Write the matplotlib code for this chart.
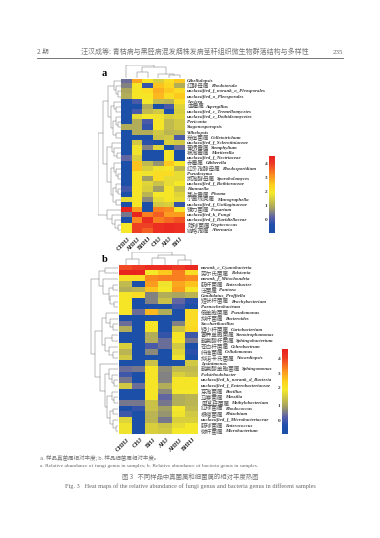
import numpy as np
import matplotlib
matplotlib.use('Agg')
import matplotlib.pyplot as plt
from matplotlib.colors import LinearSegmentedColormap

# page size in pixels
W, H = 380, 538
SERIF = ['Liberation Serif', 'Noto Sans CJK SC']
CJK = ['Noto Sans CJK SC', 'Liberation Serif']

# panel a
samples_a = ['CHHJ', 'AHHJ', 'BHHJ', 'CHJ', 'AHJ', 'BHJ']
genera_a = ['Gibellulopsis', '红酵母属 Rhodotorula', 'unclassified_f_norank_o_Pleosporales',
            'unclassified_o_Pleosporales', 'Lecicea', '曲霉属 Aspergillus',
            'unclassified_c_Tremellomycetes', 'unclassified_c_Dothideomycetes', 'Periconia',
            'Stagonosporopsis', 'Vilhelopsis', '炭疽菌属 Colletotrichum',
            'unclassified_f_Sclerotiniaceae', '葡柄霉属 Stemphylium', '被孢霉属 Mortierella',
            'unclassified_f_Nectriaceae', '赤霉属 Gibberella', '红冬孢酵母属 Rhodosporidium',
            'Pseudozyma', '掷孢酵母属 Sporobolomyces', 'unclassified_f_Bothioraceae',
            'Hannaella', '茎点霉属 Phoma', '小画线壳属 Monographella',
            'unclassified_f_Ustilaginaceae', '镰刀菌属 Fusarium', 'unclassified_k_Fungi',
            'unclassified_f_Davidiellaceae', '隐球菌属 Cryptococcus', '链格孢属 Alternaria']
values_a = [
    [0.3, 2.9, 2.0, 1.5, 2.1, 2.5],
    [0.5, 2.0, -0.2, 2.6, 2.3, 1.0],
    [0.9, 2.0, 2.2, 2.8, 2.5, 2.2],
    [1.0, 2.0, 2.0, 2.7, 2.2, 2.5],
    [-0.9, 0.0, 1.9, 1.2, 1.1, 2.1],
    [-0.9, -0.9, 1.0, -0.9, 0.0, 1.6],
    [-0.9, 0.0, 1.2, 1.4, -0.5, 1.5],
    [-0.9, 1.7, 1.9, 1.8, 1.5, 1.6],
    [-0.9, 1.0, 0.0, 2.0, 1.2, 1.4],
    [1.0, 1.0, -0.2, 2.0, 1.2, 1.4],
    [-0.9, 1.0, 1.0, 1.4, 1.1, 1.2],
    [-0.9, -0.9, -0.9, 1.3, 1.4, 0.0],
    [-0.9, 1.4, -0.3, -0.8, 1.5, 1.4],
    [-0.9, 1.8, 0.5, 1.6, -0.9, 0.3],
    [-0.9, 1.8, -0.9, -0.9, 2.0, -0.9],
    [0.2, 1.5, -0.9, -0.9, 2.0, -0.9],
    [-0.9, 2.6, 1.2, 0.7, 2.5, 1.9],
    [-0.9, 2.6, 1.5, 1.8, 2.0, 1.1],
    [-0.9, 2.0, 1.8, 2.2, 2.2, 1.7],
    [-0.9, 2.0, 0.8, 2.2, 1.7, 1.7],
    [-0.9, 2.0, 1.6, 1.3, 1.7, 1.9],
    [-0.1, 2.0, 1.5, 0.8, 2.0, 1.3],
    [-0.9, 2.0, 1.1, 1.9, 2.0, 1.6],
    [1.7, 2.0, 0.6, 1.7, 2.0, 1.7],
    [-0.9, 2.0, -0.9, 1.4, 1.5, -0.2],
    [4.4, 3.0, -0.9, 3.3, 3.2, 2.0],
    [0.4, 4.4, 3.3, 3.6, 3.0, 3.0],
    [-0.9, 3.2, 4.2, 3.3, 3.5, 3.7],
    [1.9, 3.9, 3.9, 4.2, 4.3, 4.2],
    [1.9, 3.9, 3.6, 4.2, 4.3, 4.2],
]

# panel b
samples_b = ['CHHJ', 'CHJ', 'BHJ', 'AHJ', 'AHHJ', 'BHHJ']
genera_b = ['norank_c_Cyanobacteria', '劳尔氏菌属 Ralstonia', 'norank_f_Mitochondria',
            '肠杆菌属 Enterobacter', '泛菌属 Pantoea', 'Candidatus_Profftella',
            '短状杆菌属 Brachybacterium', 'Paenochrobactrum', '假单胞菌属 Pseudomonas',
            '拟杆菌属 Bacteroides', 'Saccharibacillus', '短小杆菌属 Curtobacterium',
            '寡养单胞菌属 Stenotrophomonas', '鞘氨醇杆菌属 Sphingobacterium',
            '苍白杆菌属 Ochrobactrum', '纤维菌属 Cellulomonas', '拟诺卡氏菌属 Nocardiopsis',
            'Lysinimonas', '鞘氨醇单胞菌属 Sphingomonas', 'Falsirhodobacter',
            'unclassified_k_norank_d_Bacteria', 'unclassified_f_Enterobacteriaceae',
            '芽孢菌属 Bacillus', '马赛菌属 Massilia', '甲基杆菌属 Methylobacterium',
            '红球菌属 Rhodococcus', '根瘤菌属 Rhizobium', 'unclassified_f_Microbacteriaceae',
            '肠球菌属 Enterococcus', '微杆菌属 Microbacterium']
values_b = [
    [3.8, 4.0, 4.2, 4.2, 4.0, 4.3],
    [4.4, 4.4, 1.9, 2.5, 3.3, 2.2],
    [2.1, 2.2, 3.2, 3.3, 3.3, 3.2],
    [1.2, -0.9, 3.0, 1.8, 2.9, 2.6],
    [1.0, 1.1, 2.6, 1.9, 3.0, 2.0],
    [2.0, 2.2, 0.5, 1.0, 0.9, 1.1],
    [2.0, -0.9, 0.5, 1.3, 0.2, -0.3],
    [2.0, -0.9, -0.9, -0.9, -0.1, -0.9],
    [2.0, 0.3, 2.7, 1.0, -0.9, 2.2],
    [-0.9, -0.9, -0.9, -0.9, -0.9, 2.2],
    [0.3, -0.9, 2.0, -0.9, 0.5, 2.2],
    [1.0, -0.9, 2.0, -0.9, 1.3, 2.3],
    [-0.9, -0.9, 1.0, -0.2, 2.0, -0.1],
    [-0.9, -0.9, 1.0, 0.3, 2.0, 0.4],
    [1.5, -0.9, 0.0, 0.3, 1.4, -0.8],
    [1.1, -0.9, 0.6, -0.9, 1.6, -0.3],
    [1.4, -0.9, -0.9, -0.9, 1.8, -0.8],
    [-0.9, -0.9, 1.3, -0.9, -0.8, 1.4],
    [0.3, 0.4, 2.0, 0.6, 1.2, 1.2],
    [-0.1, -0.9, 2.0, 0.5, 1.5, 1.3],
    [0.4, -0.9, 2.0, 0.5, 2.0, 2.0],
    [1.4, 0.3, 2.0, 1.0, 2.0, 2.0],
    [-0.9, -0.9, 2.0, 0.6, 1.9, 1.9],
    [-0.9, -0.9, 2.0, 0.2, 1.0, 1.1],
    [0.4, 0.4, 1.3, 0.4, 1.0, 1.1],
    [-0.9, -0.2, 1.3, 0.8, 1.9, 1.2],
    [-0.1, -0.9, 1.1, 0.7, 1.8, 1.4],
    [1.6, -0.9, 1.1, 0.4, 1.5, 1.5],
    [1.8, -0.9, 1.5, 1.3, 1.7, 1.9],
    [1.8, -0.9, 1.5, 1.4, 1.9, 1.9],
]

# clustering trees, written as (height, left, right) with leaf = row or column index
rows_tree_a = (1.0,
    (0.8,
        (0.55, (0.3, 0, (0.2, 1, (0.1, 2, 3))),
               (0.45, (0.3, 4, (0.2, 5, 6)), (0.35, (0.2, 7, (0.1, 8, 9)), (0.2, 10, 11)))),
        (0.6, (0.4, 12, (0.3, 13, (0.15, 14, 15))),
              (0.45, (0.3, 16, (0.2, 17, (0.1, 18, 19))),
                     (0.35, (0.2, 20, (0.1, 21, 22)), (0.2, 23, 24))))),
    (0.6, 25, (0.4, 26, (0.25, 27, (0.1, 28, 29)))))
cols_tree_a = (1.0, 0, (0.85, (0.5, 1, 2), (0.35, 3, (0.2, 4, 5))))
rows_tree_b = (1.0,
    (0.7, (0.5, 0, 1), (0.55, 2, (0.35, (0.2, 3, 4), (0.3, 5, (0.15, 6, 7))))),
    (0.85,
        (0.6, (0.45, 8, (0.3, 9, (0.2, 10, 11))),
              (0.5, (0.25, 12, 13), (0.35, 14, (0.2, 15, 16)))),
        (0.65, 17, (0.5, (0.35, 18, (0.25, 19, (0.15, 20, 21))),
                         (0.4, (0.25, 22, (0.15, 23, 24)),
                               (0.3, (0.2, 25, 26), (0.2, 27, (0.1, 28, 29))))))))
cols_tree_b = (1.0, (0.45, 0, 1), (0.8, (0.5, 2, 3), (0.35, 4, 5)))

cbar_ticks = [0, 1, 2, 3, 4]
header_left = '2 期'
header_mid = '汪汉成等: 青枯病与黑胫病混发烟株发病茎秆组织微生物群落结构与多样性'
header_right = '235'
note_zh = 'a. 样品真菌属相对丰度; b. 样品细菌属相对丰度。'
note_en = 'a. Relative abundance of fungi genus in samples; b. Relative abundance of bacteria genus in samples.'
cap_zh = '图 3   不同样品中真菌属和细菌属的相对丰度热图'
cap_en = 'Fig. 3   Heat maps of the relative abundance of fungi genus and bacteria genus in different samples'

cmap = LinearSegmentedColormap.from_list('heat', [
    (0.0, '#1c4fa8'), (0.1, '#1f4fac'), (0.2, '#5a5fa8'), (0.33, '#a8a460'),
    (0.52, '#f5e92a'), (0.62, '#fdd21e'), (0.75, '#fb9020'), (0.9, '#ee3b24'), (1.0, '#e8201f')])
VMIN, VMAX = -0.95, 4.5


def px_axes(x0, y0, x1, y1):
    return fig.add_axes([x0 / W, 1 - y1 / H, (x1 - x0) / W, (y1 - y0) / H])


def draw_tree(ax, node, horizontal):
    # returns (leaf position, height) of the node
    if not isinstance(node, tuple):
        return node + 0.5, 0.0
    h, a, b = node
    pa, ha = draw_tree(ax, a, horizontal)
    pb, hb = draw_tree(ax, b, horizontal)
    xs = [pa, pa, pb, pb]
    ys = [ha, h, h, hb]
    if horizontal:
        ax.plot(xs, ys, color='#777777', lw=0.35)
    else:
        ax.plot(ys, xs, color='#777777', lw=0.35)
    return (pa + pb) / 2, h


def genus_label(x, y, name):
    # chinese part is regular and a bit bigger, latin part bold italic
    if ' ' in name:
        zh, latin = name.split(' ')
        t = page.text(x, y, zh, fontsize=4.1, family=CJK, va='center', ha='left', color='#555555')
        box = t.get_window_extent(fig.canvas.get_renderer())
        x = box.x1 + 1.5
    else:
        latin = name
    page.text(x, y, latin, fontsize=3.5, family=SERIF, style='italic', weight='bold',
              va='center', ha='left', color='#333333')


def panel(values, samples, genera, rows_tree, cols_tree, box, top_y, left_x, label_x, tick_dy):
    x0, y0, x1, y1 = box
    data = np.array(values)
    ax = px_axes(x0, y0, x1, y1)
    ax.imshow(data, cmap=cmap, vmin=VMIN, vmax=VMAX, aspect='auto', interpolation='nearest',
              extent=(0, data.shape[1], data.shape[0], 0))
    ax.axis('off')

    top = px_axes(x0, top_y, x1, y0 - 0.5)
    draw_tree(top, cols_tree, True)
    top.set_xlim(0, data.shape[1])
    top.set_ylim(0, 1.02)
    top.axis('off')

    left = px_axes(left_x, y0, x0 - 0.5, y1)
    draw_tree(left, rows_tree, False)
    left.set_ylim(data.shape[0], 0)
    left.set_xlim(1.02, 0)
    left.axis('off')

    row_h = (y1 - y0) / len(genera)
    for i, name in enumerate(genera):
        genus_label(label_x, y0 + (i + 0.5) * row_h, name)
    col_w = (x1 - x0) / len(samples)
    for i, name in enumerate(samples):
        page.text(x0 + (i + 0.6) * col_w, y1 + tick_dy, name, fontsize=4.4, family=SERIF,
                  weight='bold', rotation=45, ha='right', va='top', rotation_mode='anchor',
                  color='#222222')


def colorbar(box, tick_ys, label_x):
    x0, y0, x1, y1 = box
    ax = px_axes(x0, y0, x1, y1)
    ax.imshow(np.linspace(1, 0, 256).reshape(-1, 1), cmap=cmap, aspect='auto')
    ax.axis('off')
    for v, y in zip(cbar_ticks, tick_ys):
        page.text(label_x, y, str(v), fontsize=3.8, family=SERIF, weight='bold',
                  ha='center', va='center', color='#333333')


fig = plt.figure(figsize=(W / 100, H / 100), dpi=100, facecolor='white')
page = fig.add_axes([0, 0, 1, 1])
page.set_xlim(0, W)
page.set_ylim(H, 0)
page.axis('off')

# running head
page.text(37, 52, header_left, fontsize=4.8, family=CJK, color='#777777', va='center')
page.text(195, 52, header_mid, fontsize=5.05, family=CJK, color='#777777', va='center', ha='center')
page.text(343, 52, header_right, fontsize=5, family=SERIF, color='#666666', va='center', ha='right')
page.plot([37, 343], [58, 58], color='#777777', lw=0.7)

page.text(104, 74, 'a', fontsize=7.5, family=SERIF, weight='bold', ha='center', va='center')
page.text(105, 260, 'b', fontsize=7.5, family=SERIF, weight='bold', ha='center', va='center')

panel(values_a, samples_a, genera_a, rows_tree_a, cols_tree_a,
      (121, 78.5, 185, 233), 65, 98, 187, 3)
panel(values_b, samples_b, genera_b, rows_tree_b, cols_tree_b,
      (119, 265, 198, 434), 252, 90, 201, 3)

colorbar((269, 156, 275, 233), [220, 206, 192, 178, 164], 266)
colorbar((282, 349, 288, 434), [421, 406, 388, 374, 359], 279)

# notes and caption
page.text(40, 458, note_zh, fontsize=4, family=CJK, color='#777777', va='center')
page.text(40, 466, note_en, fontsize=3.88, family=SERIF, color='#666666', va='center')
page.text(190, 477, cap_zh, fontsize=4.6, family=CJK, color='#777777', va='center', ha='center')
page.text(190, 486, cap_en, fontsize=4.5, family=SERIF, color='#666666', va='center', ha='center')

fig.savefig('out.png', dpi=100)
